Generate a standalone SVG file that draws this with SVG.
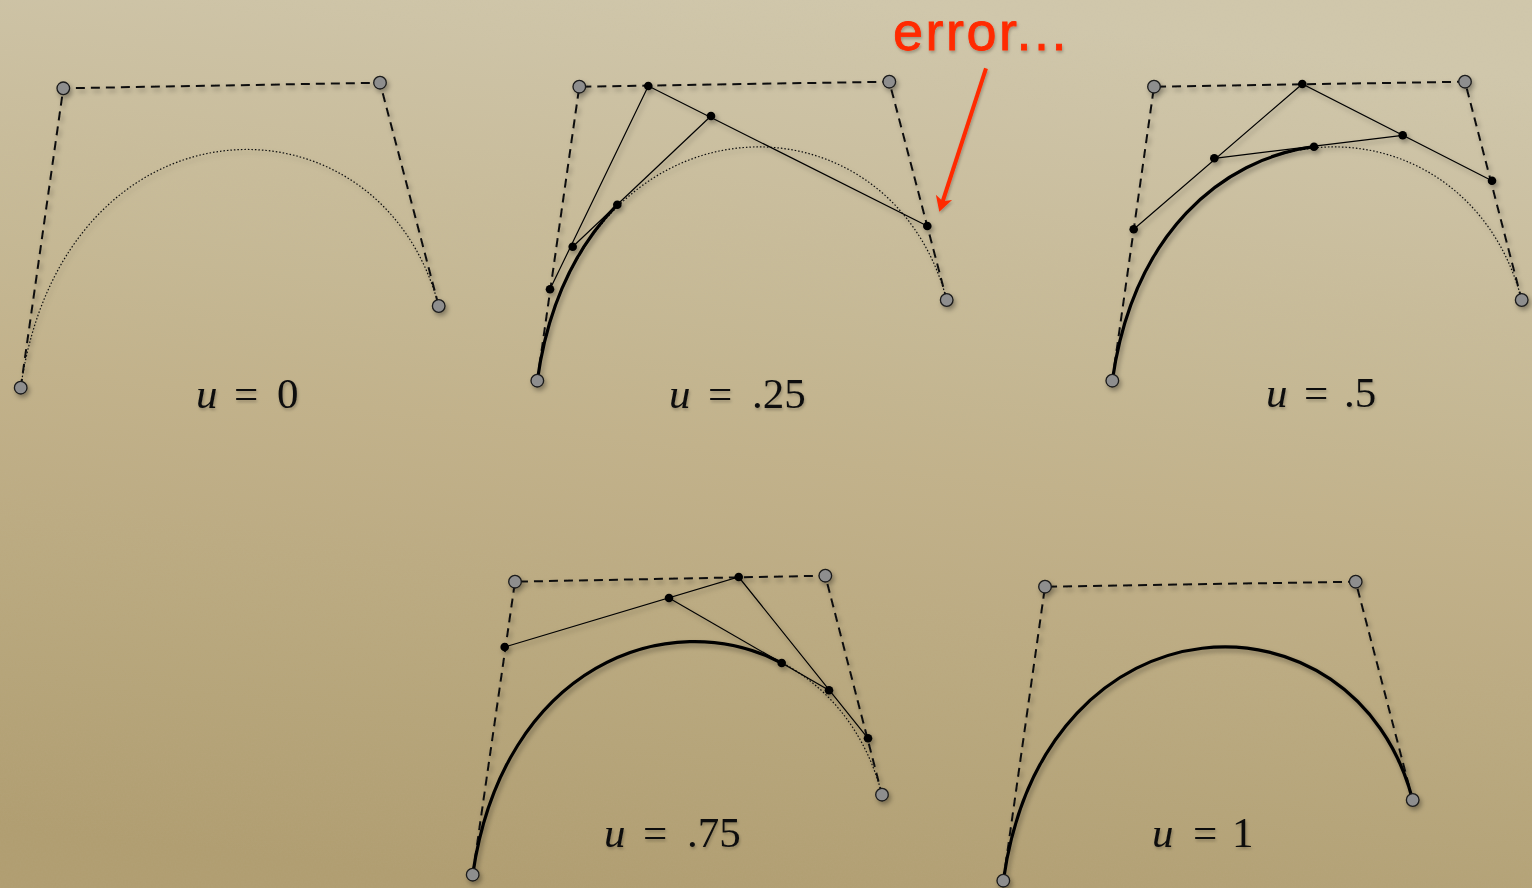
<svg xmlns="http://www.w3.org/2000/svg" width="1532" height="888" viewBox="0 0 1532 888">
  <defs>
    <linearGradient id="bg" x1="0.55" y1="0" x2="0.35" y2="1">
      <stop offset="0" stop-color="#d1c8ac"/>
      <stop offset="0.5" stop-color="#c2b28a"/>
      <stop offset="1" stop-color="#b09d6f"/>
    </linearGradient>
    <filter id="noise" x="0" y="0" width="100%" height="100%">
      <feTurbulence type="fractalNoise" baseFrequency="0.6" numOctaves="2" seed="3" result="n"/>
      <feColorMatrix type="matrix" values="0 0 0 0 0.5  0 0 0 0 0.45  0 0 0 0 0.35  0 0 0 0.12 0"/>
    </filter>
    <filter id="shadow" x="-10%" y="-10%" width="120%" height="130%">
      <feDropShadow dx="2" dy="3" stdDeviation="2.5" flood-color="#000" flood-opacity="0.35"/>
    </filter>
    <filter id="tshadow" x="-10%" y="-20%" width="120%" height="150%">
      <feDropShadow dx="1" dy="2" stdDeviation="1.5" flood-color="#000" flood-opacity="0.25"/>
    </filter>
    <marker id="redhead" markerUnits="userSpaceOnUse" markerWidth="30" markerHeight="30" refX="12" refY="10" orient="auto" overflow="visible">
      <path d="M20,10 L5,1.5 L9,10 L5,18.5 Z" fill="#ff2a00"/>
    </marker>
    <style>
      .ctrl { fill: none; stroke: #111; stroke-width: 2; stroke-dasharray: 9 6; }
      .dotted { fill: none; stroke: #111; stroke-width: 1.2; stroke-dasharray: 1.5 2; }
      .thick { fill: none; stroke: #000; stroke-width: 3.2; stroke-linecap: round; }
      .thin { fill: none; stroke: #000; stroke-width: 1.2; }
      .cp { fill: #8e8e8e; stroke: #1a1a1a; stroke-width: 1.3; }
      .pt { fill: #000; }
      .lbl { font-family: "Liberation Serif", "DejaVu Serif", serif; font-size: 43px; fill: #111; }
      .lbl .v { font-style: italic; }
      .err { font-family: "Liberation Sans", "DejaVu Sans", sans-serif; font-size: 54px; letter-spacing: 2.5px; fill: #ff2a00; stroke: #ff2a00; stroke-width: 0.8; }
    </style>
  </defs>

  <rect width="1532" height="888" fill="url(#bg)"/>
  <rect width="1532" height="888" filter="url(#noise)"/>

  <!-- Panel u = 0 -->
  <g id="panel-u0" filter="url(#shadow)">
    <g class="connectors">
      <polyline class="ctrl" points="20.7,387.7 63.3,88.3 380,82.7 438.7,306"/>
      <path class="dotted" d="M20.7,387.7 C63.3,88.3 380,82.7 438.7,306"/>
    </g>
    <g class="nodes">
      <circle id="u0-p0" class="cp" cx="20.7" cy="387.7" r="6.3"/>
      <circle id="u0-p1" class="cp" cx="63.3" cy="88.3" r="6.3"/>
      <circle id="u0-p2" class="cp" cx="380" cy="82.7" r="6.3"/>
      <circle id="u0-p3" class="cp" cx="438.7" cy="306" r="6.3"/>
    </g>
  </g>
  <text class="lbl" y="408" filter="url(#tshadow)"><tspan class="v" x="196">u</tspan><tspan x="234">=</tspan><tspan x="277">0</tspan></text>

  <!-- Panel u = .25 -->
  <g id="panel-u25" filter="url(#shadow)">
    <g class="connectors">
      <polyline class="ctrl" points="537.3,380.7 579.3,86.7 889.3,81.7 946.7,300"/>
      <path class="dotted" d="M537.3,380.7 C579.3,86.7 889.3,81.7 946.7,300"/>
      <polyline class="thin" points="550,289.3 648.3,86 927.3,226"/>
      <line class="thin" x1="572.7" y1="246.7" x2="711" y2="116"/>
      <path class="thick" d="M537.3,380.7 C548.1,302.4 578.1,244.9 617.3,204.7"/>
    </g>
    <g class="nodes">
      <circle id="u25-p0" class="cp" cx="537.3" cy="380.7" r="6.3"/>
      <circle id="u25-p1" class="cp" cx="579.3" cy="86.7" r="6.3"/>
      <circle id="u25-p2" class="cp" cx="889.3" cy="81.7" r="6.3"/>
      <circle id="u25-p3" class="cp" cx="946.7" cy="300" r="6.3"/>
      <circle id="u25-q0" class="pt" cx="550" cy="289.3" r="4.3"/>
      <circle id="u25-q1" class="pt" cx="648.3" cy="86" r="4.3"/>
      <circle id="u25-q2" class="pt" cx="927.3" cy="226" r="4.3"/>
      <circle id="u25-r0" class="pt" cx="572.7" cy="246.7" r="4.3"/>
      <circle id="u25-r1" class="pt" cx="711" cy="116" r="4.3"/>
      <circle id="u25-s" class="pt" cx="617.3" cy="204.7" r="4.3"/>
    </g>
  </g>
  <text class="lbl" y="408" filter="url(#tshadow)"><tspan class="v" x="669">u</tspan><tspan x="708">=</tspan><tspan x="752">.25</tspan></text>

  <!-- Panel u = .5 -->
  <g id="panel-u5" filter="url(#shadow)">
    <g class="connectors">
      <polyline class="ctrl" points="1112.3,380.7 1154,86.7 1465,81.7 1521.7,300"/>
      <path class="dotted" d="M1112.3,380.7 C1154,86.7 1465,81.7 1521.7,300"/>
      <polyline class="thin" points="1133.7,229.3 1302.3,84 1492,180.7"/>
      <line class="thin" x1="1214.3" y1="158.3" x2="1402.7" y2="135.3"/>
      <path class="thick" d="M1112.3,380.7 C1133.2,233.7 1221.3,159 1314,146.7"/>
    </g>
    <g class="nodes">
      <circle id="u5-p0" class="cp" cx="1112.3" cy="380.7" r="6.3"/>
      <circle id="u5-p1" class="cp" cx="1154" cy="86.7" r="6.3"/>
      <circle id="u5-p2" class="cp" cx="1465" cy="81.7" r="6.3"/>
      <circle id="u5-p3" class="cp" cx="1521.7" cy="300" r="6.3"/>
      <circle id="u5-q0" class="pt" cx="1133.7" cy="229.3" r="4.3"/>
      <circle id="u5-q1" class="pt" cx="1302.3" cy="84" r="4.3"/>
      <circle id="u5-q2" class="pt" cx="1492" cy="180.7" r="4.3"/>
      <circle id="u5-r0" class="pt" cx="1214.3" cy="158.3" r="4.3"/>
      <circle id="u5-r1" class="pt" cx="1402.7" cy="135.3" r="4.3"/>
      <circle id="u5-s" class="pt" cx="1314" cy="146.7" r="4.3"/>
    </g>
  </g>
  <text class="lbl" y="407" filter="url(#tshadow)"><tspan class="v" x="1266">u</tspan><tspan x="1304">=</tspan><tspan x="1344">.5</tspan></text>

  <!-- Panel u = .75 -->
  <g id="panel-u75" filter="url(#shadow)">
    <g class="connectors">
      <polyline class="ctrl" points="472.7,874.7 515,581.7 825.3,575.7 882,794.7"/>
      <path class="dotted" d="M472.7,874.7 C515,581.7 825.3,575.7 882,794.7"/>
      <polyline class="thin" points="504.7,647 738.7,577 868,738.3"/>
      <line class="thin" x1="669" y1="598" x2="829" y2="690.3"/>
      <path class="thick" d="M472.7,874.7 C502.7,666.7 667.9,603.3 781.7,663"/>
    </g>
    <g class="nodes">
      <circle id="u75-p0" class="cp" cx="472.7" cy="874.7" r="6.3"/>
      <circle id="u75-p1" class="cp" cx="515" cy="581.7" r="6.3"/>
      <circle id="u75-p2" class="cp" cx="825.3" cy="575.7" r="6.3"/>
      <circle id="u75-p3" class="cp" cx="882" cy="794.7" r="6.3"/>
      <circle id="u75-q0" class="pt" cx="504.7" cy="647" r="4.3"/>
      <circle id="u75-q1" class="pt" cx="738.7" cy="577" r="4.3"/>
      <circle id="u75-q2" class="pt" cx="868" cy="738.3" r="4.3"/>
      <circle id="u75-r0" class="pt" cx="669" cy="598" r="4.3"/>
      <circle id="u75-r1" class="pt" cx="829" cy="690.3" r="4.3"/>
      <circle id="u75-s" class="pt" cx="781.7" cy="663" r="4.3"/>
    </g>
  </g>
  <text class="lbl" y="847" filter="url(#tshadow)"><tspan class="v" x="604">u</tspan><tspan x="643">=</tspan><tspan x="687">.75</tspan></text>

  <!-- Panel u = 1 -->
  <g id="panel-u1" filter="url(#shadow)">
    <g class="connectors">
      <polyline class="ctrl" points="1003.3,880.7 1045,586.7 1355.7,581.7 1412.7,800"/>
      <path class="thick" d="M1003.3,880.7 C1045,586.7 1355.7,581.7 1412.7,800"/>
    </g>
    <g class="nodes">
      <circle id="u1-p0" class="cp" cx="1003.3" cy="880.7" r="6.3"/>
      <circle id="u1-p1" class="cp" cx="1045" cy="586.7" r="6.3"/>
      <circle id="u1-p2" class="cp" cx="1355.7" cy="581.7" r="6.3"/>
      <circle id="u1-p3" class="cp" cx="1412.7" cy="800" r="6.3"/>
    </g>
  </g>
  <text class="lbl" y="847" filter="url(#tshadow)"><tspan class="v" x="1152">u</tspan><tspan x="1193">=</tspan><tspan x="1232">1</tspan></text>

  <!-- Annotation -->
  <g id="annotation" filter="url(#tshadow)">
    <text class="err" x="893" y="50">error...</text>
    <g class="connectors">
      <line x1="986" y1="68.3" x2="941.8" y2="204.1" stroke="#ff2a00" stroke-width="4" marker-end="url(#redhead)"/>
    </g>
  </g>
</svg>
